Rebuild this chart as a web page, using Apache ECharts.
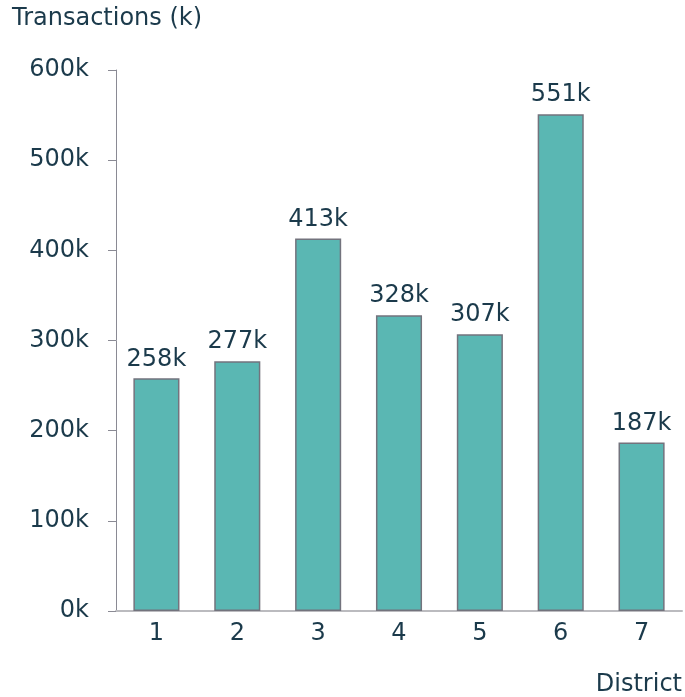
<!DOCTYPE html>
<html>
<head>
<meta charset="utf-8">
<script src="https://cdn.jsdelivr.net/npm/echarts@6/dist/echarts.min.js"></script>
<style>
  html, body { margin: 0; padding: 0; background: #fff; }
  #main { width: 685px; height: 697px; }
</style>
</head>
<body>
<div id="main"></div>
<script>
// districts and transaction counts (thousands)
var districts = ['1', '2', '3', '4', '5', '6', '7'];
var transactions = [258, 277, 413, 328, 307, 551, 187];

var textColor = '#1b3a4b';
var font = "'DejaVu Sans', sans-serif";

(function () {
    var chart = echarts.init(document.getElementById('main'));

    var option = {
        title: {
            text: 'Transactions (k)',
            left: 12,
            top: 7,
            padding: 0,
            textStyle: {
                color: textColor,
                fontSize: 24,
                fontWeight: 'normal',
                fontFamily: font
            }
        },
        grid: {
            left: 116,
            right: 3,
            top: 70,
            bottom: 85,
            containLabel: false
        },
        xAxis: {
            type: 'category',
            data: districts,
            name: 'District',
            nameLocation: 'end',
            nameGap: 0,
            nameTextStyle: {
                color: textColor,
                fontSize: 24,
                fontFamily: font,
                align: 'right',
                verticalAlign: 'top',
                padding: [62, 0, 0, 0]
            },
            axisLine: {lineStyle: {color: '#bbbbbf', width: 2}},
            axisTick: {show: false},
            axisLabel: {
                color: textColor,
                fontSize: 24,
                fontFamily: font,
                margin: 11
            }
        },
        yAxis: {
            type: 'value',
            min: 0,
            max: 600,
            interval: 100,
            axisLine: {show: true, lineStyle: {color: '#8a8a94', width: 1}},
            axisTick: {show: true, length: 8, lineStyle: {color: '#8a8a94'}},
            splitLine: {show: false},
            axisLabel: {
                color: textColor,
                fontSize: 24,
                fontFamily: font,
                margin: 27,
                formatter: '{value}k'
            }
        },
        series: [
            {
                type: 'bar',
                data: transactions,
                barWidth: '57%',
                itemStyle: {
                    color: '#5ab7b3',
                    borderColor: '#73737d',
                    borderWidth: 1.5
                },
                label: {
                    show: true,
                    position: 'top',
                    distance: 7,
                    color: textColor,
                    fontSize: 24,
                    fontFamily: font,
                    formatter: '{c}k'
                }
            }
        ]
    };

    chart.setOption(option);
})();
</script>
</body>
</html>
